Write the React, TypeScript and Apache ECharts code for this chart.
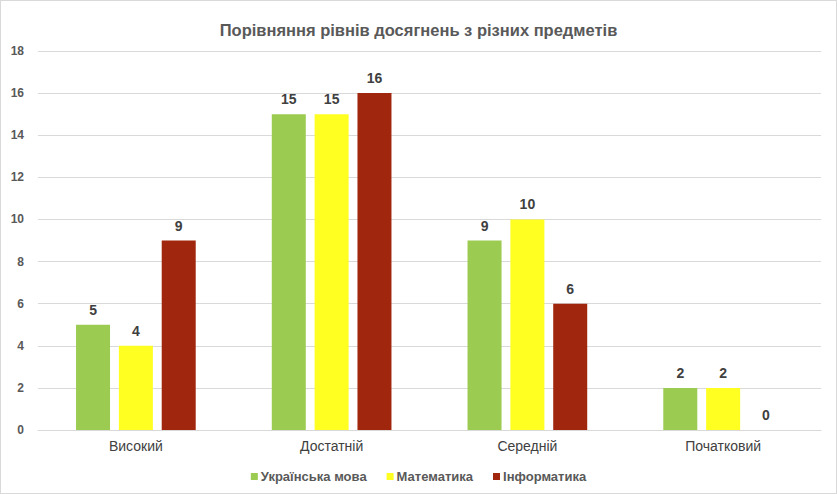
import React, { useEffect, useRef } from "react";
import * as echarts from "echarts";

const categories = ["Високий", "Достатній", "Середній", "Початковий"];
const seriesNames = ["Українська мова", "Математика", "Інформатика"];
const ukrainianValues = [5, 15, 9, 2];
const mathValues = [4, 15, 10, 2];
const informaticsValues = [9, 16, 6, 0];
const colors = ["#9BCB50", "#FFFF22", "#A0260D"];

export default function App() {
  const ref = useRef<HTMLDivElement>(null);

  useEffect(() => {
    document.body.style.margin = "0";
    if (!ref.current) return;
    const chart = echarts.init(ref.current, undefined, { renderer: "svg" });
    const font = "'Liberation Sans', Arial, sans-serif";
    const values = [ukrainianValues, mathValues, informaticsValues];
    chart.setOption({
      animation: false,
      backgroundColor: "#ffffff",
      textStyle: { fontFamily: font },
      title: {
        text: "Порівняння рівнів досягнень з різних предметів",
        left: "center",
        top: 15,
        textStyle: {
          fontFamily: font,
          fontSize: 16.5,
          fontWeight: "bold",
          color: "#595959",
        },
      },
      legend: {
        bottom: 5,
        left: "center",
        itemWidth: 7,
        itemHeight: 7,
        itemGap: 20,
        icon: "rect",
        textStyle: {
          fontSize: 13,
          fontWeight: "bold",
          color: "#595959",
          fontFamily: font,
          padding: [0, 0, 0, -2],
        },
        data: seriesNames,
      },
      grid: { left: 37, right: 15, top: 50, bottom: 63 },
      xAxis: {
        type: "category",
        data: categories,
        axisTick: { show: false },
        axisLine: { lineStyle: { color: "#d9d9d9" } },
        axisLabel: { fontSize: 14, color: "#404040", margin: 9 },
      },
      yAxis: {
        type: "value",
        min: 0,
        max: 18,
        interval: 2,
        axisLabel: { fontSize: 12, color: "#595959", fontWeight: "bold", margin: 14 },
        splitLine: { lineStyle: { color: "#d9d9d9" } },
      },
      series: seriesNames.map((name, i) => ({
        name,
        type: "bar",
        data: values[i],
        barWidth: 34,
        barGap: "26%",
        itemStyle: { color: colors[i] },
        label: {
          show: true,
          position: "top",
          distance: 8,
          fontSize: 14,
          fontWeight: "bold",
          color: "#404040",
        },
      })),
    });
    return () => chart.dispose();
  }, []);

  return (
    <div
      ref={ref}
      style={{
        width: 837,
        height: 494,
        boxSizing: "border-box",
        border: "1px solid #d9d9d9",
      }}
    />
  );
}
